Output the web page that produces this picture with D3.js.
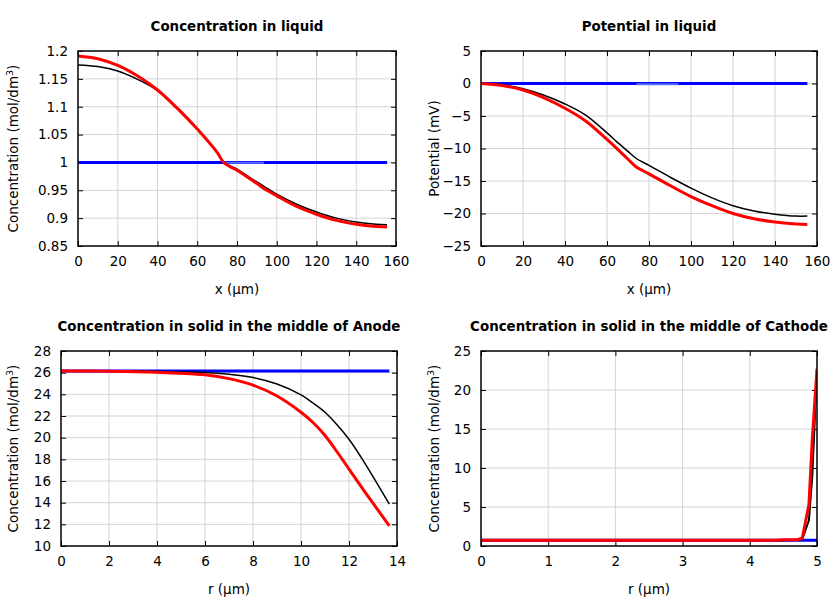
<!DOCTYPE html>
<html><head><meta charset="utf-8">
<script src="https://cdn.jsdelivr.net/npm/d3@7"></script>
<style>body{margin:0;background:#fff}svg{display:block}</style>
</head><body><svg id="c" width="840" height="600"></svg>
<script>
// ---------- data ----------
const liqX = [0,10,20,30,40,50,60,70,73.5,80,90,95,100,110,120,130,140,150,155.5];
const liqBlack = [1.175,1.172,1.164,1.149,1.129,1.098,1.061,1.019,1.0,0.988,0.965,0.954,0.943,0.925,0.911,0.900,0.893,0.889,0.888];
const liqRed   = [1.191,1.186,1.174,1.155,1.130,1.097,1.060,1.018,0.999,0.986,0.962,0.950,0.940,0.921,0.907,0.896,0.889,0.885,0.884];
const liqBlueX = [0,155.5];
const liqBlue  = [1.0,1.0];
const liqSepX  = [73.5,93.6];
const liqSep   = [0.9996,0.9996];

const potX = [0,10,20,30,40,50,60,65,70,73.8,80,90,100,110,120,130,140,150,155.4];
const potBlack = [0,-0.2,-0.8,-1.8,-3.15,-4.9,-7.6,-9.05,-10.45,-11.5,-12.6,-14.4,-16.1,-17.6,-18.8,-19.6,-20.1,-20.4,-20.4];
const potRed   = [0,-0.3,-1.0,-2.2,-3.8,-5.8,-8.6,-10.1,-11.65,-12.8,-13.9,-15.7,-17.4,-18.8,-20.0,-20.8,-21.3,-21.6,-21.7];
const potBlueX = [0,155.4];
const potBlue  = [0,0];
const potSepX  = [74,94];
const potSep   = [-0.12,-0.12];

const anoX = [0,2,4,5,6,7,8,9,10,10.5,11,11.5,12,12.5,13,13.68];
const anoBlack = [26.15,26.15,26.12,26.08,26.02,25.85,25.55,24.95,23.95,23.2,22.35,21.2,19.85,18.2,16.4,13.87];
const anoRed   = [26.15,26.13,26.03,25.95,25.8,25.45,24.85,23.85,22.35,21.4,20.2,18.7,17.1,15.5,13.95,11.85];
const anoBlueX = [0,13.68];
const anoBlue  = [26.15,26.15];

const catX = [0,4.4,4.5,4.7,4.78,4.88,4.93,5.0];
const catBlack = [0.75,0.75,0.75,0.76,0.85,3.3,9.0,22.7];
const catRed   = [0.75,0.75,0.8,0.8,1.0,5.3,13.7,22.7];
const catBlueX = [0,5];
const catBlue  = [0.75,0.75];

const liqXTicks = [0,20,40,60,80,100,120,140,160];
const liqYTicks = [0.85,0.9,0.95,1,1.05,1.1,1.15,1.2];
const potYTicks = [-25,-20,-15,-10,-5,0,5];
const anoXTicks = [0,2,4,6,8,10,12,14];
const anoYTicks = [10,12,14,16,18,20,22,24,26,28];
const catXTicks = [0,1,2,3,4,5];
const catYTicks = [0,5,10,15,20,25];

const titles = ["Concentration in liquid","Potential in liquid",
  "Concentration in solid in the middle of Anode","Concentration in solid in the middle of Cathode"];

// ---------- drawing ----------
const svg = d3.select("#c");
const FONT = "DejaVu Sans, sans-serif";

function panel(o){
  const g = svg.append("g");
  const x = d3.scaleLinear().domain(o.xd).range([o.x0,o.x1]);
  const y = d3.scaleLinear().domain(o.yd).range([o.y1,o.y0]);
  // grid
  g.append("g").selectAll("line").data(o.xt.slice(1,-1)).join("line")
    .attr("x1",d=>x(d)).attr("x2",d=>x(d)).attr("y1",o.y0).attr("y2",o.y1)
    .attr("stroke","#d4d4d4").attr("stroke-width",1);
  g.append("g").selectAll("line").data(o.yt.slice(1,-1)).join("line")
    .attr("y1",d=>y(d)).attr("y2",d=>y(d)).attr("x1",o.x0).attr("x2",o.x1)
    .attr("stroke","#d4d4d4").attr("stroke-width",1);
  // axes (inward ticks, mirrored)
  const tl = 5;
  const xb = d3.axisBottom(x).tickValues(o.xt).tickSize(-tl).tickPadding(10).tickFormat(d3.format("~g"));
  const xtp = d3.axisTop(x).tickValues(o.xt).tickSize(-tl).tickFormat("");
  const yl = d3.axisLeft(y).tickValues(o.yt).tickSize(-tl).tickPadding(10).tickFormat(d3.format("~g"));
  const yr = d3.axisRight(y).tickValues(o.yt).tickSize(-tl).tickFormat("");
  const ax = [
    g.append("g").attr("transform",`translate(0,${o.y1})`).call(xb),
    g.append("g").attr("transform",`translate(0,${o.y0})`).call(xtp),
    g.append("g").attr("transform",`translate(${o.x0},0)`).call(yl),
    g.append("g").attr("transform",`translate(${o.x1},0)`).call(yr)];
  ax.forEach(a=>{
    a.select(".domain").remove();
    a.selectAll(".tick line").attr("stroke","#000").attr("stroke-width",1);
    a.selectAll("text").attr("font-family",FONT).attr("font-size",13.5).attr("fill","#000");
  });
  // lines
  const clip = "clip"+o.id;
  svg.append("clipPath").attr("id",clip).append("rect")
    .attr("x",o.x0).attr("y",o.y0-2).attr("width",o.x1-o.x0).attr("height",o.y1-o.y0+4);
  const lg = g.append("g").attr("clip-path",`url(#${clip})`);
  o.series.forEach(s=>{
    const line = d3.line().x((d,i)=>x(s.x[i])).y(d=>y(d)).curve(s.curve||d3.curveCatmullRom.alpha(0.5));
    lg.append("path").attr("d",line(s.v)).attr("fill","none")
      .attr("stroke",s.c).attr("stroke-width",s.w).attr("stroke-linejoin","round");
  });
  // frame
  g.append("rect").attr("x",o.x0).attr("y",o.y0).attr("width",o.x1-o.x0).attr("height",o.y1-o.y0)
    .attr("fill","none").attr("stroke","#000").attr("stroke-width",1.5);
  // title
  g.append("text").attr("x",(o.x0+o.x1)/2).attr("y",o.y0-20).attr("text-anchor","middle")
    .attr("font-family",FONT).attr("font-weight","bold").attr("font-size",13.4).text(o.title);
  // x label
  g.append("text").attr("x",(o.x0+o.x1)/2).attr("y",o.y1+48).attr("text-anchor","middle")
    .attr("font-family",FONT).attr("font-size",13.5).text(o.xl);
  // y label
  const t = g.append("text").attr("transform",`translate(${o.ylx},${(o.y0+o.y1)/2}) rotate(-90)`)
    .attr("text-anchor","middle").attr("font-family",FONT).attr("font-size",13.5);
  if(o.sup){
    t.append("tspan").text(o.yl);
    t.append("tspan").attr("dy",-5).attr("font-size",9.5).text(o.sup);
    t.append("tspan").attr("dy",5).text(")");
  } else t.text(o.yl);
}

const blue="#0000ff", red="#ff0000", black="#000000", lblue="#5a6cff";

panel({id:1,x0:78,x1:396,y0:51,y1:246,xd:[0,160],yd:[0.85,1.2],xt:liqXTicks,yt:liqYTicks,
  title:titles[0],xl:"x (µm)",yl:"Concentration (mol/dm",sup:"3",ylx:18,
  series:[{x:liqBlueX,v:liqBlue,c:blue,w:3,curve:d3.curveLinear},
          {x:liqSepX,v:liqSep,c:lblue,w:2,curve:d3.curveLinear},
          {x:liqX,v:liqBlack,c:black,w:1.5},
          {x:liqX,v:liqRed,c:red,w:3}]});

panel({id:2,x0:481,x1:817,y0:51,y1:246,xd:[0,160],yd:[-25,5],xt:liqXTicks,yt:potYTicks,
  title:titles[1],xl:"x (µm)",yl:"Potential (mV)",ylx:439,
  series:[{x:potBlueX,v:potBlue,c:blue,w:3,curve:d3.curveLinear},
          {x:potSepX,v:potSep,c:lblue,w:2,curve:d3.curveLinear},
          {x:potX,v:potBlack,c:black,w:1.5},
          {x:potX,v:potRed,c:red,w:3}]});

panel({id:3,x0:61,x1:397,y0:351,y1:546,xd:[0,14],yd:[10,28],xt:anoXTicks,yt:anoYTicks,
  title:titles[2],xl:"r (µm)",yl:"Concentration (mol/dm",sup:"3",ylx:18,
  series:[{x:anoBlueX,v:anoBlue,c:blue,w:3,curve:d3.curveLinear},
          {x:anoX,v:anoBlack,c:black,w:1.5},
          {x:anoX,v:anoRed,c:red,w:3}]});

panel({id:4,x0:481,x1:817,y0:351,y1:546,xd:[0,5],yd:[0,25],xt:catXTicks,yt:catYTicks,
  title:titles[3],xl:"r (µm)",yl:"Concentration (mol/dm",sup:"3",ylx:439,
  series:[{x:catBlueX,v:catBlue,c:blue,w:3,curve:d3.curveLinear},
          {x:catX,v:catBlack,c:black,w:2,curve:d3.curveLinear},
          {x:catX,v:catRed,c:red,w:3,curve:d3.curveLinear}]});
</script></body></html>
